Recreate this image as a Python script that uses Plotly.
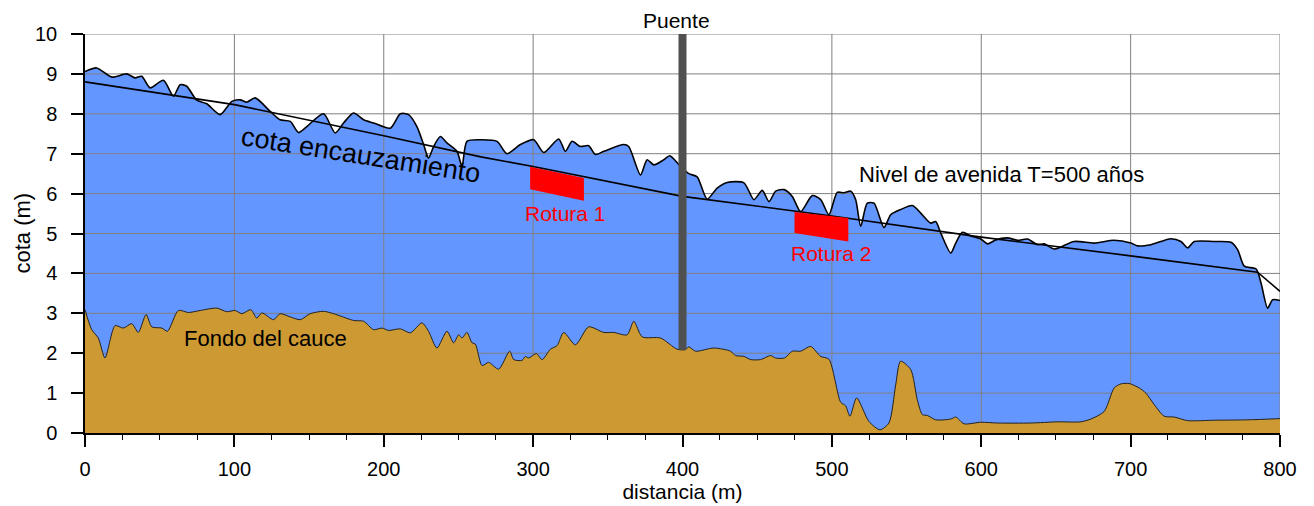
import plotly.graph_objects as go

# ---------------- data ----------------
x_ticks = [0, 100, 200, 300, 400, 500, 600, 700, 800]
y_ticks = [0, 1, 2, 3, 4, 5, 6, 7, 8, 9, 10]

# water surface (Nivel de avenida T=500 años)
water_x = [0, 7.8, 17.9, 27.9, 33.5, 38, 43.6, 52.5, 59.2, 63.7, 68.1, 74.8, 81.5, 90.5, 98.3,
           103.9, 108.3, 113.9, 124, 130.6, 137.4, 142.9, 148.5, 159.7, 167.5, 173.1, 179.8,
           186.5, 193.2, 204.4, 211.1, 216.6, 222.2, 226.7, 230, 233.4, 237.9, 242.3, 249,
           252.4, 255.7, 264.7, 275.8, 282.5, 291.5, 300.4, 307.1, 317.1, 321.6, 326.1, 331.7,
           337.2, 341.7, 347.3, 360.7, 364, 371.9, 376.3, 380.8, 387.5, 391.5, 398.2, 404.2,
           409.8, 416.5, 423.2, 429.9, 441.1, 447.8, 453.4, 457.9, 462.4, 468, 473.5, 479.1,
           486.9, 492.5, 498, 503.6, 508.1, 512.6, 515.9, 519.3, 523.7, 528.2, 534.9, 539.4,
           546, 553.9, 559.5, 566.2, 569.5, 572.9, 579.6, 582.9, 587.4, 593, 599.7, 604.2,
           609.7, 617.5, 624.3, 631, 637.7, 642.2, 648.9, 662.2, 675.6, 689, 700.2, 704.6,
           713.6, 727, 733.7, 738.1, 742.6, 756, 767.2, 771.7, 776.1, 784, 787.3, 791.7,
           795.1, 800]
water_y = [9.06, 9.15, 8.92, 9.00, 8.90, 8.94, 8.65, 8.84, 8.44, 8.73, 8.69, 8.34, 8.25, 7.98,
           8.31, 8.35, 8.29, 8.40, 8.06, 7.85, 7.81, 7.53, 7.68, 8.00, 7.52, 7.77, 8.02, 7.85,
           7.77, 7.64, 8.00, 7.98, 7.68, 7.23, 6.89, 7.18, 7.43, 7.27, 7.06, 6.68, 7.31, 7.35,
           7.31, 7.00, 7.23, 7.35, 7.03, 7.37, 7.06, 7.31, 7.18, 7.20, 6.98, 7.06, 7.23, 7.18,
           6.47, 6.85, 6.72, 6.85, 6.95, 6.70, 6.50, 6.42, 5.86, 6.14, 6.28, 6.27, 5.85, 6.08,
           5.80, 6.06, 6.10, 5.93, 5.55, 5.95, 5.85, 5.47, 6.03, 6.02, 6.06, 5.85, 5.18, 5.76,
           5.76, 5.15, 5.47, 5.60, 5.70, 5.51, 5.26, 5.30, 5.01, 4.51, 4.76, 5.03, 4.94, 4.86,
           4.74, 4.84, 4.89, 4.83, 4.86, 4.72, 4.74, 4.61, 4.80, 4.76, 4.83, 4.76, 4.69, 4.72,
           4.87, 4.80, 4.64, 4.80, 4.80, 4.78, 4.59, 4.18, 4.11, 3.76, 3.13, 3.34, 3.32]

# river bed (Fondo del cauce)
bed_x = [0, 4.5, 8.9, 13.4, 20.1, 25.7, 31.3, 35.7, 40.9, 44.7, 51.4, 55.2, 62.5, 69.2, 77.1,
         88.2, 94.9, 100.5, 105, 111, 115, 118.4, 126.2, 130.6, 137.4, 144.1, 150.8, 159.7,
         166.4, 179.8, 186.5, 193.2, 198.8, 203.2, 211.1, 217.8, 225.6, 230, 235.6, 242.3,
         246.8, 250.1, 252.4, 255.7, 259.1, 261.3, 265.8, 270.2, 276.9, 284.3, 287, 292.6,
         294.8, 297, 302.2, 306, 311.6, 316, 320.5, 328.3, 337.2, 347.3, 354, 362.9, 367.4,
         373, 385.3, 396.4, 402, 404.2, 408.7, 421, 432.2, 435.5, 441.1, 445.6, 452.3, 459,
         462.3, 468.3, 473.5, 479.1, 485.8, 492.5, 498, 505.9, 509.2, 512.1, 516.6, 524.8,
         532.2, 538.2, 542.7, 546, 552.8, 557.2, 560.6, 563.9, 569.5, 579.6, 582.9, 588.5,
         599.7, 610.8, 633.2, 651, 666.7, 673.4, 682.3, 689, 693.5, 699, 705.7, 710.2, 715.8,
         722.5, 729.2, 738.1, 756, 778.4, 800]
bed_y = [3.09, 2.59, 2.38, 1.88, 2.69, 2.63, 2.74, 2.52, 2.97, 2.66, 2.63, 2.55, 3.07, 3.02,
         3.07, 3.13, 3.04, 3.07, 2.99, 3.09, 2.88, 3.01, 2.84, 2.99, 2.91, 2.84, 2.99, 3.05,
         2.99, 2.82, 2.80, 2.59, 2.63, 2.57, 2.61, 2.51, 2.76, 2.55, 2.13, 2.55, 2.26, 2.46,
         2.38, 2.52, 2.26, 2.23, 1.69, 1.77, 1.60, 2.05, 1.84, 1.82, 1.92, 1.88, 1.99, 1.84,
         2.10, 2.19, 2.52, 2.21, 2.66, 2.52, 2.52, 2.46, 2.80, 2.41, 2.38, 2.10, 2.09, 2.16,
         2.05, 2.13, 2.05, 1.94, 1.92, 1.84, 1.84, 1.94, 1.88, 1.88, 2.05, 2.05, 2.17, 1.92,
         1.85, 0.77, 0.68, 0.42, 0.88, 0.29, 0.08, 0.25, 1.20, 1.80, 1.59, 0.83, 0.46, 0.44,
         0.33, 0.35, 0.40, 0.23, 0.27, 0.25, 0.25, 0.28, 0.28, 0.35, 0.54, 1.13, 1.23, 1.24,
         1.13, 1.00, 0.71, 0.42, 0.40, 0.31, 0.32, 0.33, 0.36]

# cota encauzamiento
enc_x = [0, 100, 200, 265, 300, 400, 500, 546, 600, 700, 785, 800]
enc_y = [8.80, 8.23, 7.45, 6.92, 6.68, 5.93, 5.44, 5.20, 4.91, 4.44, 4.03, 3.55]

# roturas (breaches)
rot1_x = [298, 334, 334, 298]
rot1_y = [6.67, 6.39, 5.82, 6.11]
rot2_x = [475, 511, 511, 475]
rot2_y = [5.54, 5.39, 4.80, 5.01]

# puente (bridge)
bridge_x = 400
bridge_y = [2.09, 10]

FONT = "Liberation Sans, Arial, sans-serif"
BLUE = "#6496FF"
BROWN = "#CC9933"
GRID = "#808080"

fig = go.Figure()

# water fill
fig.add_trace(go.Scatter(x=water_x, y=water_y, mode="lines", fill="tozeroy",
                         fillcolor=BLUE, line=dict(width=0, color=BLUE, shape="spline", smoothing=0.7),
                         hoverinfo="skip", showlegend=False))

# gridlines (above water, below bed)
gx, gy = [], []
for v in x_ticks[1:]:
    gx += [v, v, None]
    gy += [y_ticks[0], y_ticks[-1], None]
for v in y_ticks[1:]:
    gx += [x_ticks[0], x_ticks[-1], None]
    gy += [v, v, None]
fig.add_trace(go.Scatter(x=gx, y=gy, mode="lines", line=dict(color=GRID, width=1),
                         cliponaxis=False, hoverinfo="skip", showlegend=False))

# bed fill + outline
fig.add_trace(go.Scatter(x=bed_x, y=bed_y, mode="lines", fill="tozeroy",
                         fillcolor=BROWN, line=dict(width=1, color="#222222", shape="spline", smoothing=0.7),
                         hoverinfo="skip", showlegend=False))

# water outline
fig.add_trace(go.Scatter(x=water_x, y=water_y, mode="lines",
                         line=dict(width=1.6, color="black", shape="spline", smoothing=0.7),
                         hoverinfo="skip", showlegend=False))

# encauzamiento
fig.add_trace(go.Scatter(x=enc_x, y=enc_y, mode="lines",
                         line=dict(width=1.6, color="black"),
                         hoverinfo="skip", showlegend=False))

# bridge
fig.add_trace(go.Scatter(x=[bridge_x, bridge_x], y=bridge_y, mode="lines",
                         line=dict(width=8, color="#505050"),
                         hoverinfo="skip", showlegend=False))

# roturas
for rx, ry in ((rot1_x, rot1_y), (rot2_x, rot2_y)):
    fig.add_trace(go.Scatter(x=rx, y=ry, mode="lines", fill="toself", fillcolor="#FF0000",
                             line=dict(width=0, color="#FF0000"),
                             hoverinfo="skip", showlegend=False))

ann = [
    dict(text="Rotura 1", x=321.5, y=5.5, font=dict(size=21, color="#FF0000")),
    dict(text="Rotura 2", x=499.5, y=4.5, font=dict(size=21, color="#FF0000")),
    dict(text="Nivel de avenida T=500 años", x=613.5, y=6.47, font=dict(size=22, color="black")),
    dict(text="Fondo del cauce", x=120.8, y=2.36, font=dict(size=22, color="black")),
    dict(text="cota encauzamiento", x=184.8, y=6.97, textangle=9, font=dict(size=27, color="black")),
]
for a in ann:
    a["font"]["family"] = FONT
    fig.add_annotation(xref="x", yref="y", showarrow=False, xanchor="center", yanchor="middle", **a)

# bridge label above the plot area
fig.add_annotation(text="Puente", xref="x", yref="paper", x=396, y=1, yshift=14,
                   showarrow=False, xanchor="center", yanchor="middle",
                   font=dict(family=FONT, size=21, color="black"))
# y-axis title
fig.add_annotation(text="cota (m)", xref="paper", yref="paper", x=0, y=0.5, xshift=-63,
                   textangle=-90, showarrow=False, xanchor="center", yanchor="middle",
                   font=dict(family=FONT, size=22, color="black"))

fig.update_layout(
    width=1306, height=498,
    margin=dict(l=77, r=34, t=26, b=73),
    plot_bgcolor="white", paper_bgcolor="white",
    font=dict(family=FONT, color="black", size=20),
    showlegend=False,
    xaxis=dict(range=[0, 800], tickvals=x_ticks, showgrid=False, zeroline=False, automargin=False,
               showline=True, linecolor="black", linewidth=1.5,
               ticks="outside", ticklen=12, tickwidth=1.5, tickcolor="black",
               ticklabelstandoff=5,
               tickfont=dict(size=20),
               minor=dict(dtick=25, ticks="outside", ticklen=5, tickwidth=1.2, tickcolor="black", showgrid=False),
               title=dict(text="distancia (m)", font=dict(size=21), standoff=4)),
    yaxis=dict(range=[0, 10], tickvals=y_ticks, showgrid=False, zeroline=False, automargin=False,
               showline=True, linecolor="black", linewidth=1.5,
               ticks="outside", ticklen=12, tickwidth=1.5, tickcolor="black",
               ticklabelstandoff=10,
               tickfont=dict(size=20)),
)

fig.write_html("out.html")
